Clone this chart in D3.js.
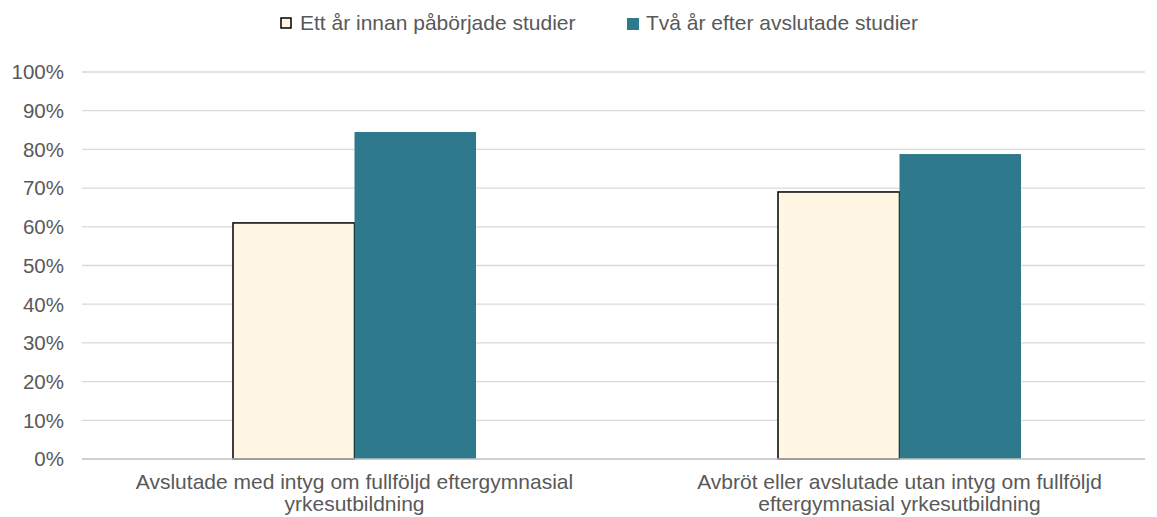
<!DOCTYPE html>
<html>
<head>
<meta charset="utf-8">
<script src="https://cdn.jsdelivr.net/npm/d3@7"></script>
<style>
  body { margin: 0; background: #fff; }
  text { font-family: "Liberation Sans", Arial, sans-serif; fill: #595959; }
</style>
</head>
<body>
<svg id="chart" width="1157" height="517"></svg>
<script>
// data
const categories = [
    ["Avslutade med intyg om fullföljd eftergymnasial", "yrkesutbildning"],
    ["Avbröt eller avslutade utan intyg om fullföljd", "eftergymnasial yrkesutbildning"]
];
const seriesNames = ["Ett år innan påbörjade studier", "Två år efter avslutade studier"];
const before = [0.61, 0.69];
const after = [0.845, 0.788];
const yTicks = [0, 0.1, 0.2, 0.3, 0.4, 0.5, 0.6, 0.7, 0.8, 0.9, 1];

const colors = ["#FFF7E3", "#2E7A8C"];
const strokes = ["#000", "none"];

const svg = d3.select("#chart");
const plotLeft = 82, gridRight = 1145, plotTop = 72, plotBottom = 459;

const y = d3.scaleLinear().domain([0, 1]).range([plotBottom, plotTop]);

const x0 = d3.scaleBand()
    .domain(d3.range(categories.length))
    .range([plotLeft, 1172]);

const x1 = d3.scaleBand()
    .domain([0, 1])
    .range([0, 243]);

// gridlines
svg.append("g")
    .selectAll("line")
    .data(yTicks.slice(1))
    .join("line")
    .attr("x1", plotLeft).attr("x2", gridRight)
    .attr("y1", d => y(d)).attr("y2", d => y(d))
    .attr("stroke", "#D9D9D9")
    .attr("stroke-width", 1.3);

// y labels
svg.append("g")
    .selectAll("text")
    .data(yTicks)
    .join("text")
    .attr("x", 64)
    .attr("y", d => y(d))
    .attr("dy", "0.36em")
    .attr("text-anchor", "end")
    .style("font-size", "20.5px")
    .text(d => d3.format(".0%")(d));

// bars
const rows = categories.map((c, i) => [before[i], after[i]]);

const groups = svg.append("g")
    .selectAll("g")
    .data(rows)
    .join("g")
    .attr("transform", (d, i) => `translate(${x0(i) + x0.bandwidth() / 2 - 121.5},0)`);

groups.selectAll("rect")
    .data(d => d)
    .join("rect")
    .attr("x", (d, j) => x1(j))
    .attr("y", d => y(d))
    .attr("width", x1.bandwidth())
    .attr("height", d => y(0) - y(d))
    .attr("fill", (d, j) => colors[j])
    .attr("stroke", (d, j) => strokes[j])
    .attr("stroke-width", 1.5);

// base axis line
svg.append("line")
    .attr("x1", plotLeft).attr("x2", gridRight)
    .attr("y1", y(0)).attr("y2", y(0))
    .attr("stroke", "#BFBFBF")
    .attr("stroke-width", 1.3);

// x labels
categories.forEach((lines, i) => {
    const cx = x0(i) + x0.bandwidth() / 2;
    const t = svg.append("text")
        .attr("y", 489)
        .attr("text-anchor", "middle")
        .style("font-size", "21px");
    lines.forEach((l, k) => {
        t.append("tspan")
            .attr("x", cx)
            .attr("dy", k === 0 ? 0 : 22)
            .text(l);
    });
});

// legend
const legendX = [280, 626];
seriesNames.forEach((name, i) => {
    svg.append("rect")
        .attr("x", legendX[i] + 1).attr("y", 18)
        .attr("width", i === 0 ? 10 : 12).attr("height", i === 0 ? 10 : 12)
        .attr("fill", colors[i])
        .attr("stroke", i === 0 ? "#000" : "none")
        .attr("stroke-width", 1.5);
    svg.append("text")
        .attr("x", legendX[i] + 20)
        .attr("y", 30)
        .style("font-size", "21px")
        .text(name);
});
</script>
</body>
</html>
